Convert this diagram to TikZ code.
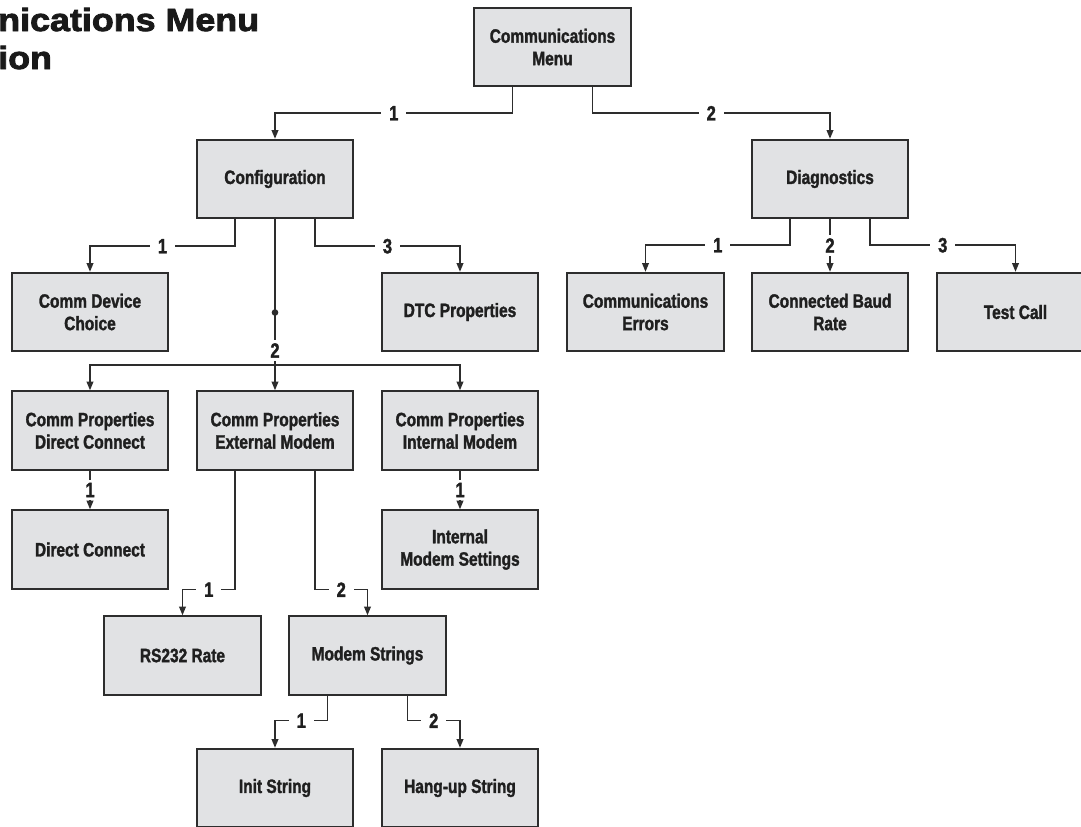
\documentclass[tikz,border=0pt]{standalone}
\usepackage{fontspec}
\usetikzlibrary{arrows.meta}
\newfontfamily\boxfont[FakeStretch=0.8,FakeBold=1.6]{Liberation Sans}
\newfontfamily\titlefont[FakeStretch=1.12,FakeBold=2.6]{Liberation Sans}
\definecolor{boxgray}{RGB}{225,226,228}
\definecolor{linegray}{RGB}{45,45,45}
\tikzset{
    menubox/.style = {draw=linegray, line width=1.3pt, fill=boxgray,
        minimum width=117.5pt, minimum height=59pt, inner sep=0pt,
        align=center, text=black!88,
        font={\boxfont\bfseries\fontsize{14.5}{16.8}\selectfont}},
    plain/.style = {draw=linegray, line width=1.1pt},
    link/.style = {plain, -{Triangle[length=6.5pt,width=5pt]}},
    num/.style = {fill=white, inner xsep=6pt, inner ysep=2.5pt, text=black!88,
        font={\boxfont\bfseries\fontsize{15.5}{17}\selectfont}},
    hub/.style = {circle, fill=linegray, inner sep=0pt, minimum size=5pt},
    heading/.style = {anchor=base west, inner sep=0pt, text=black!90,
        font={\titlefont\bfseries\fontsize{24}{28}\selectfont}}
}

\begin{document}
\begin{tikzpicture}[x=0.75pt, y=-0.75pt]
    \clip (0,0) rectangle (1081,826);

    % title, cut at the left edge
    \node[heading] (title1) at (-2,31) {nications Menu};
    \node[heading] (title2) at (-2,69) {ion};

    % boxes
    \node[menubox] (menu) at (552.5,47) {Communications\\Menu};
    \node[menubox] (config) at (275,179) {Configuration};
    \node[menubox] (diag) at (830,179) {Diagnostics};

    \node[menubox] (device) at (90,312) {Comm Device\\Choice};
    \node[menubox] (dtc) at (460,312) {DTC Properties};
    \node[menubox] (errors) at (645.5,312) {Communications\\Errors};
    \node[menubox] (baud) at (830,312) {Connected Baud\\Rate};
    \node[menubox] (testcall) at (1015.5,312) {Test Call};

    \node[menubox] (propdirect) at (90,430.5) {Comm Properties\\Direct Connect};
    \node[menubox] (propext) at (275,430.5) {Comm Properties\\External Modem};
    \node[menubox] (propint) at (460,430.5) {Comm Properties\\Internal Modem};

    \node[menubox] (direct) at (90,549.5) {Direct Connect};
    \node[menubox] (intset) at (460,549.5) {Internal\\Modem Settings};

    \node[menubox] (rsrate) at (182.5,655.5) {RS232 Rate};
    \node[menubox] (strings) at (367.5,655.5) {Modem Strings};

    \node[menubox] (init) at (275,788) {Init String};
    \node[menubox] (hangup) at (460,788) {Hang-up String};

    % connectors
    \draw[link] ([xshift=-30pt]menu.south) -- ++(0,26) -| node[num, pos=.25]{1} (config.north);
    \draw[link] ([xshift=30pt]menu.south) -- ++(0,26) -| node[num, pos=.25]{2} (diag.north);

    \draw[link] ([xshift=-30pt]config.south) -- ++(0,27) -| node[num, pos=.25]{1} (device.north);
    \draw[link] ([xshift=30pt]config.south) -- ++(0,27) -| node[num, pos=.25]{3} (dtc.north);
    \coordinate (split) at (275,365);
    \draw[plain] (config.south) -- node[hub, pos=.64]{} node[num, pos=.9]{2} (split);
    \draw[link] (split) -| (propdirect.north);
    \draw[link] (split) -- (propext.north);
    \draw[link] (split) -| (propint.north);

    \draw[link] ([xshift=-30pt]diag.south) -- ++(0,26) -| node[num, pos=.25]{1} (errors.north);
    \draw[link] (diag.south) -- node[num]{2} (baud.north);
    \draw[link] ([xshift=30pt]diag.south) -- ++(0,26) -| node[num, pos=.25]{3} (testcall.north);

    \draw[link] (propdirect.south) -- node[num]{1} (direct.north);
    \draw[link] (propint.south) -- node[num]{1} (intset.north);

    \draw[link] ([xshift=-30pt]propext.south) -- ++(0,119) -| node[num, pos=.25]{1} (rsrate.north);
    \draw[link] ([xshift=30pt]propext.south) -- ++(0,119) -| node[num, pos=.25]{2} (strings.north);

    \draw[link] ([xshift=-30pt]strings.south) -- ++(0,25) -| node[num, pos=.25]{1} (init.north);
    \draw[link] ([xshift=30pt]strings.south) -- ++(0,25) -| node[num, pos=.25]{2} (hangup.north);
\end{tikzpicture}
\end{document}
